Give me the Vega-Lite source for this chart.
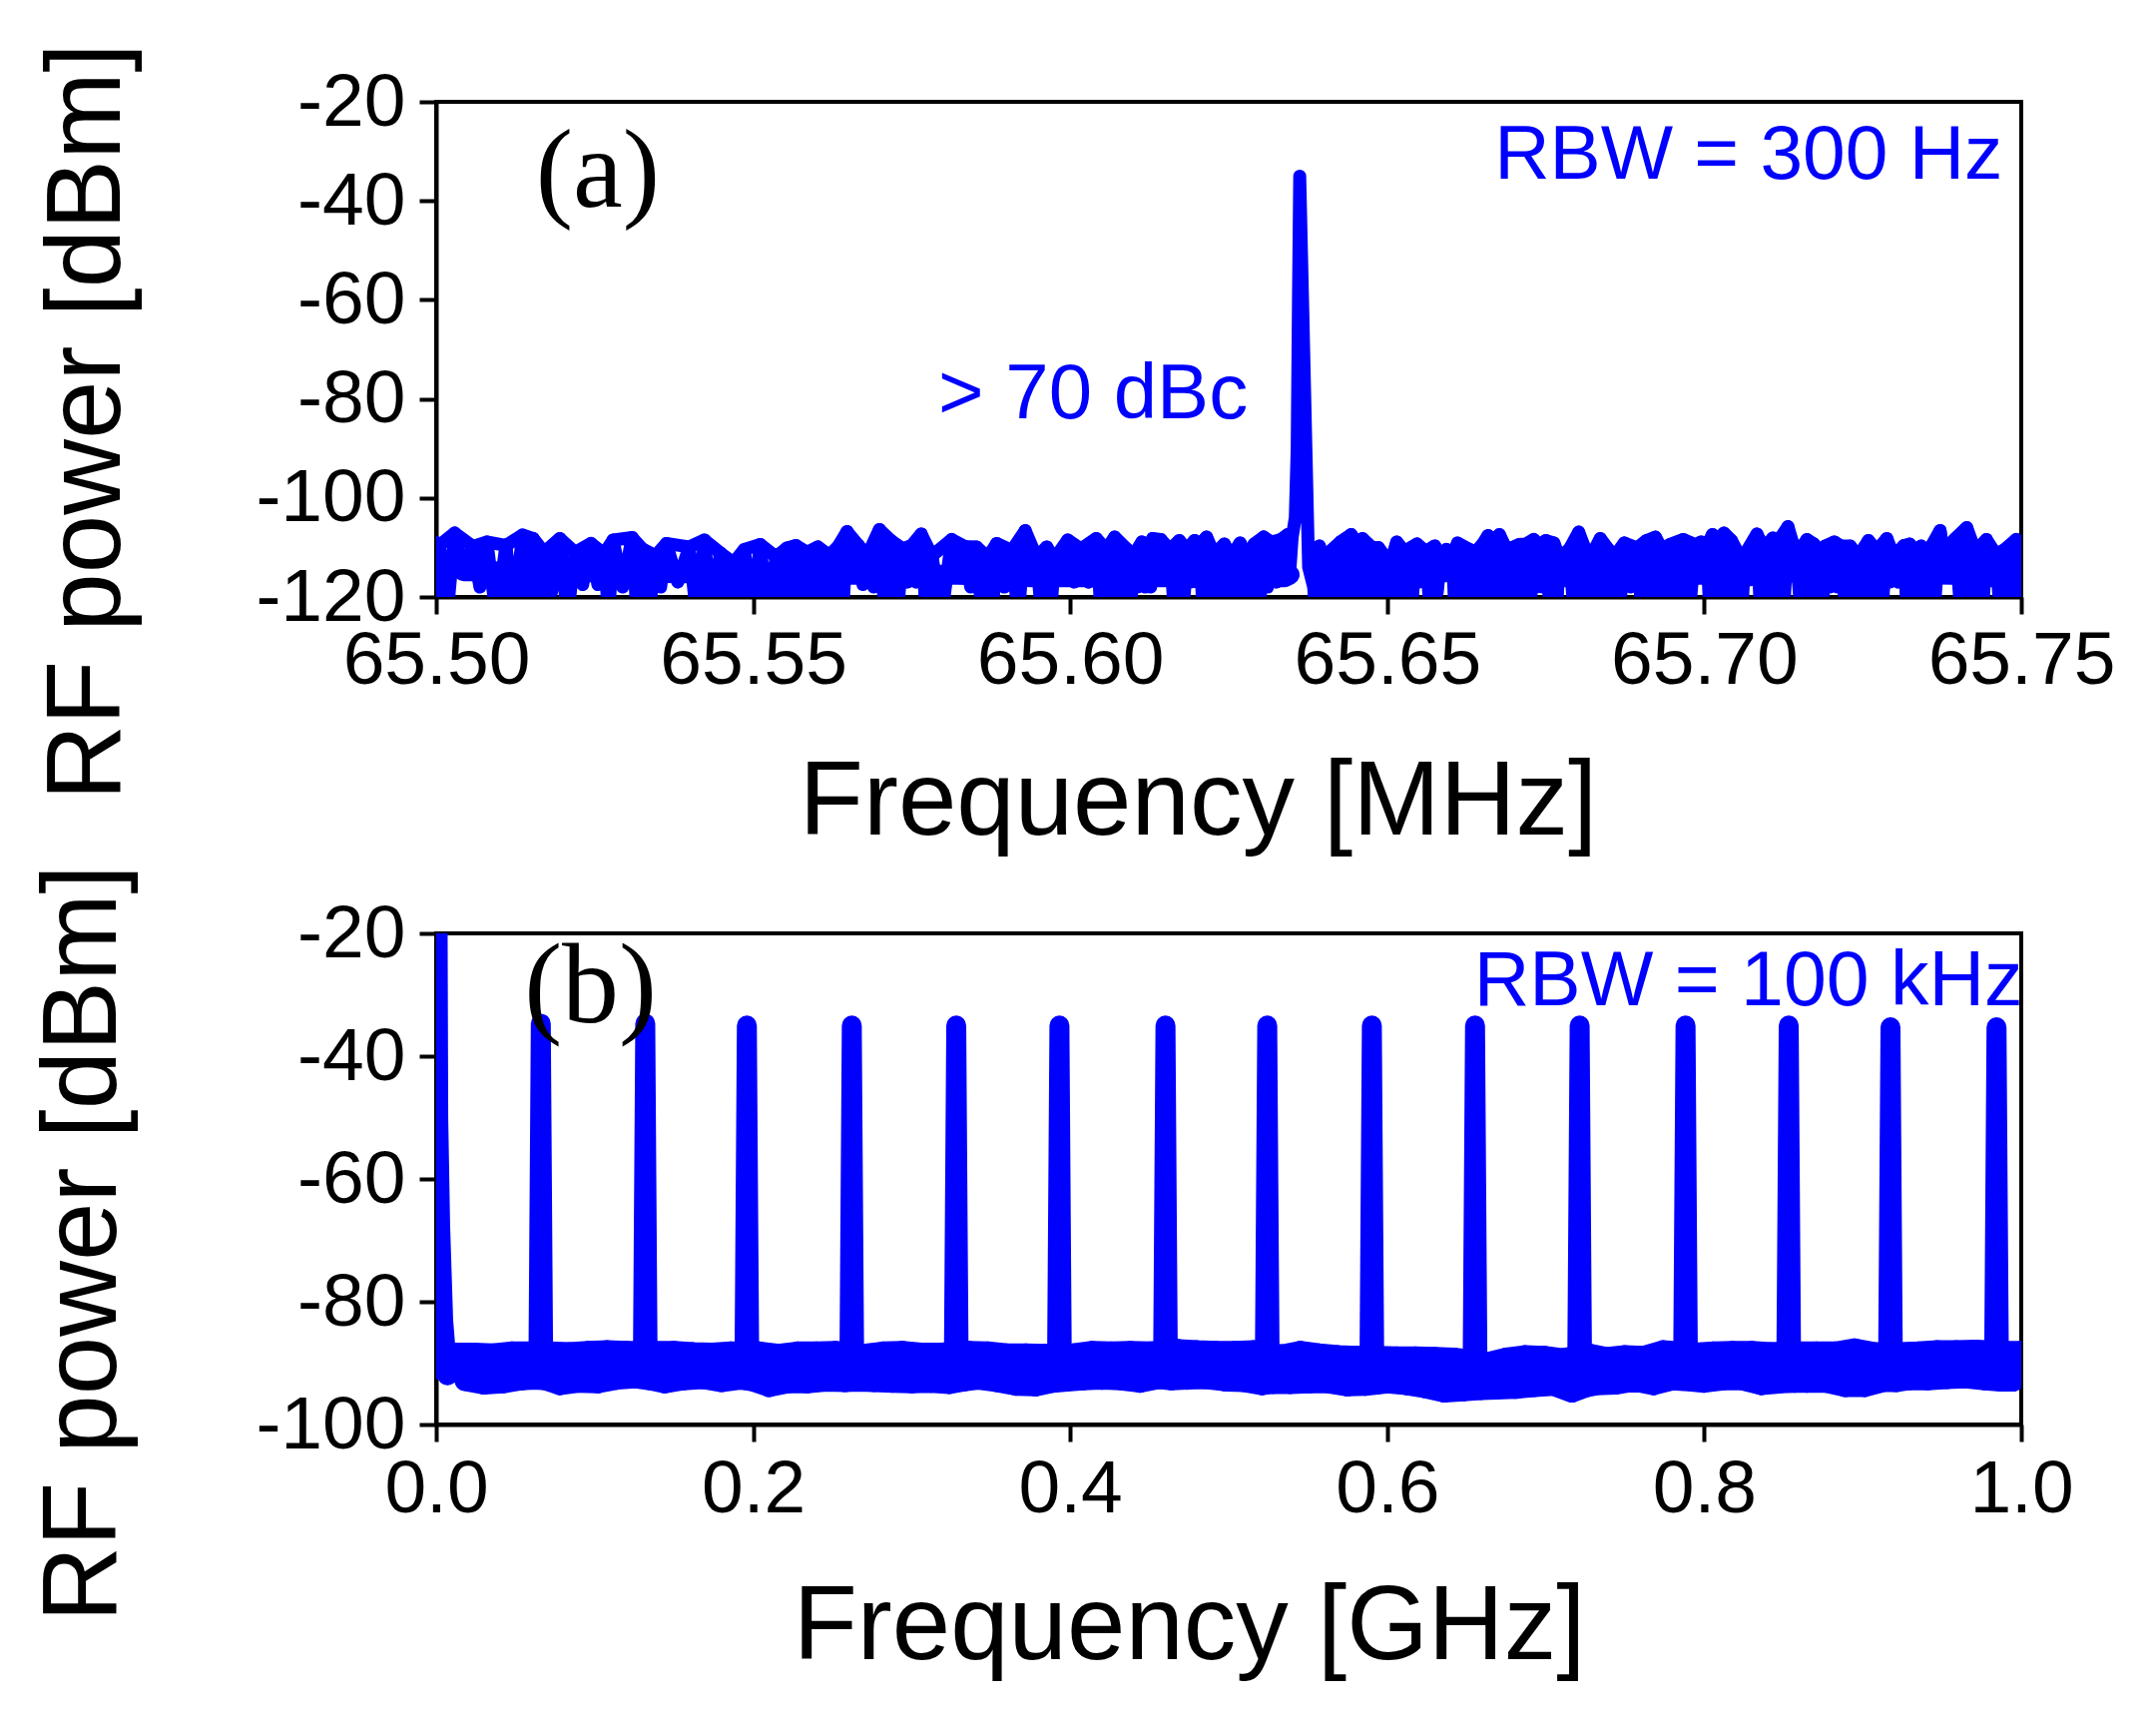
{"$schema":"https://vega.github.io/schema/vega-lite/v6.json","background":"white","autosize":{"type":"none"},"padding":{"left":437,"top":102,"right":1723,"bottom":1622},"bounds":"flush","spacing":337,"config":{"view":{"stroke":"#000000","strokeWidth":4},"font":"Liberation Sans","axis":{"grid":false,"domainColor":"#000000","domainWidth":4,"tickColor":"#000000","tickWidth":4,"tickSize":17,"labelColor":"#000000","labelFont":"Liberation Sans","labelFontSize":75,"labelLimit":600,"titleLimit":2000,"titleFont":"Liberation Sans","titleFontSize":105,"titleFontWeight":"normal","titleColor":"#000000","titleBaseline":"alphabetic","labelOverlap":false,"labelBound":false,"labelFlush":false,"zindex":1}},"datasets":{"specA":[{"f":65.5,"p":-109},{"f":65.5003,"p":-124},{"f":65.5005,"p":-109.6},{"f":65.5017,"p":-124},{"f":65.5029,"p":-107.1},{"f":65.5043,"p":-114.8},{"f":65.5058,"p":-109.8},{"f":65.5069,"p":-118},{"f":65.508,"p":-108.9},{"f":65.5095,"p":-124},{"f":65.511,"p":-109.6},{"f":65.5123,"p":-124},{"f":65.5136,"p":-107.5},{"f":65.5145,"p":-124},{"f":65.5153,"p":-108.2},{"f":65.5162,"p":-124},{"f":65.517,"p":-111},{"f":65.5182,"p":-119},{"f":65.5195,"p":-108.2},{"f":65.5207,"p":-124},{"f":65.5219,"p":-111},{"f":65.5231,"p":-117.5},{"f":65.5244,"p":-109.2},{"f":65.5255,"p":-117.5},{"f":65.5265,"p":-111.3},{"f":65.5272,"p":-124},{"f":65.5279,"p":-108.5},{"f":65.5294,"p":-118},{"f":65.5309,"p":-108},{"f":65.5317,"p":-124},{"f":65.5325,"p":-110.3},{"f":65.5335,"p":-124},{"f":65.5346,"p":-111.7},{"f":65.5354,"p":-118},{"f":65.5363,"p":-109.2},{"f":65.5381,"p":-117},{"f":65.5399,"p":-109.9},{"f":65.5411,"p":-124},{"f":65.5423,"p":-108.5},{"f":65.5435,"p":-124},{"f":65.5448,"p":-111.1},{"f":65.5458,"p":-124},{"f":65.5469,"p":-113.1},{"f":65.5477,"p":-124},{"f":65.5486,"p":-110.4},{"f":65.5498,"p":-124},{"f":65.5511,"p":-109.4},{"f":65.5523,"p":-124},{"f":65.5536,"p":-111.9},{"f":65.5544,"p":-124},{"f":65.5553,"p":-110.1},{"f":65.556,"p":-124},{"f":65.5567,"p":-109.6},{"f":65.5576,"p":-119},{"f":65.5585,"p":-111},{"f":65.5593,"p":-124},{"f":65.5602,"p":-109.9},{"f":65.5611,"p":-119},{"f":65.562,"p":-111.6},{"f":65.5627,"p":-124},{"f":65.5634,"p":-109.8},{"f":65.5641,"p":-124},{"f":65.5648,"p":-106.8},{"f":65.5657,"p":-115.5},{"f":65.5666,"p":-109.6},{"f":65.5673,"p":-117.5},{"f":65.568,"p":-111.7},{"f":65.569,"p":-118},{"f":65.5699,"p":-106.4},{"f":65.5708,"p":-124},{"f":65.5718,"p":-108.7},{"f":65.5727,"p":-124},{"f":65.5736,"p":-110.3},{"f":65.5743,"p":-117},{"f":65.575,"p":-109.6},{"f":65.5757,"p":-117},{"f":65.5765,"p":-107.3},{"f":65.5773,"p":-124},{"f":65.5782,"p":-111.7},{"f":65.5797,"p":-124},{"f":65.5813,"p":-108.4},{"f":65.5823,"p":-115.5},{"f":65.5834,"p":-109.8},{"f":65.5843,"p":-118},{"f":65.5852,"p":-109.9},{"f":65.5861,"p":-124},{"f":65.587,"p":-112},{"f":65.5877,"p":-124},{"f":65.5884,"p":-109.2},{"f":65.5896,"p":-118},{"f":65.5908,"p":-110.6},{"f":65.5918,"p":-124},{"f":65.5929,"p":-106.6},{"f":65.5938,"p":-116},{"f":65.5947,"p":-112},{"f":65.5955,"p":-124},{"f":65.5963,"p":-109.9},{"f":65.5969,"p":-124},{"f":65.5975,"p":-112.4},{"f":65.5985,"p":-116.6},{"f":65.5996,"p":-108.5},{"f":65.6006,"p":-117},{"f":65.6017,"p":-110.3},{"f":65.6029,"p":-117},{"f":65.6041,"p":-108.2},{"f":65.6049,"p":-124},{"f":65.6057,"p":-110.4},{"f":65.6063,"p":-124},{"f":65.607,"p":-107.9},{"f":65.608,"p":-124},{"f":65.609,"p":-110.4},{"f":65.6095,"p":-124},{"f":65.6099,"p":-111.8},{"f":65.6106,"p":-118},{"f":65.6113,"p":-108.9},{"f":65.6118,"p":-118},{"f":65.6123,"p":-110.8},{"f":65.6127,"p":-118},{"f":65.613,"p":-108.2},{"f":65.6137,"p":-116},{"f":65.6143,"p":-108.4},{"f":65.615,"p":-116},{"f":65.6157,"p":-110.4},{"f":65.6165,"p":-124},{"f":65.6172,"p":-108.6},{"f":65.6178,"p":-124},{"f":65.6184,"p":-110.4},{"f":65.619,"p":-117},{"f":65.6196,"p":-108.6},{"f":65.62,"p":-117},{"f":65.6204,"p":-109.4},{"f":65.621,"p":-124},{"f":65.6215,"p":-107.9},{"f":65.6221,"p":-124},{"f":65.6227,"p":-111.4},{"f":65.6235,"p":-124},{"f":65.6243,"p":-109.3},{"f":65.6249,"p":-124},{"f":65.6254,"p":-111.8},{"f":65.6261,"p":-124},{"f":65.6268,"p":-109.1},{"f":65.6274,"p":-124},{"f":65.628,"p":-112.1},{"f":65.6285,"p":-124},{"f":65.629,"p":-109.3},{"f":65.6298,"p":-124},{"f":65.6305,"p":-107.9},{"f":65.6311,"p":-118},{"f":65.6317,"p":-108.9},{"f":65.6325,"p":-117},{"f":65.6332,"p":-108.4},{"f":65.6338,"p":-116},{"f":65.6343,"p":-107.4},{"f":65.6346,"p":-115.5},{"f":65.635,"p":-108},{"f":65.6355,"p":-104},{"f":65.6358,"p":-90},{"f":65.636,"p":-60},{"f":65.6362,"p":-35},{"f":65.6372,"p":-91.5},{"f":65.6376,"p":-114},{"f":65.6384,"p":-118},{"f":65.6387,"p":-124},{"f":65.6393,"p":-109.7},{"f":65.6395,"p":-124},{"f":65.6398,"p":-112.1},{"f":65.6403,"p":-124},{"f":65.6409,"p":-110.9},{"f":65.6417,"p":-124},{"f":65.6426,"p":-108.9},{"f":65.6434,"p":-124},{"f":65.6443,"p":-107.4},{"f":65.6448,"p":-124},{"f":65.6453,"p":-109.1},{"f":65.6457,"p":-124},{"f":65.6461,"p":-108.2},{"f":65.6469,"p":-124},{"f":65.6477,"p":-110.1},{"f":65.6481,"p":-124},{"f":65.6486,"p":-110},{"f":65.6492,"p":-124},{"f":65.6498,"p":-112.1},{"f":65.6502,"p":-124},{"f":65.6506,"p":-112.8},{"f":65.651,"p":-124},{"f":65.6515,"p":-108.9},{"f":65.6521,"p":-124},{"f":65.6527,"p":-110.8},{"f":65.6537,"p":-124},{"f":65.6547,"p":-109.3},{"f":65.655,"p":-117},{"f":65.6561,"p":-110.8},{"f":65.6568,"p":-124},{"f":65.6575,"p":-109.7},{"f":65.6579,"p":-119},{"f":65.6584,"p":-112.1},{"f":65.6589,"p":-115},{"f":65.6593,"p":-110.4},{"f":65.6598,"p":-115},{"f":65.6603,"p":-111.4},{"f":65.6607,"p":-124},{"f":65.6611,"p":-109.1},{"f":65.662,"p":-124},{"f":65.663,"p":-110.4},{"f":65.6633,"p":-112.2},{"f":65.6638,"p":-124},{"f":65.6643,"p":-110.4},{"f":65.6646,"p":-124},{"f":65.665,"p":-109.4},{"f":65.6655,"p":-115.5},{"f":65.6659,"p":-107.6},{"f":65.6664,"p":-124},{"f":65.6668,"p":-108.6},{"f":65.6673,"p":-124},{"f":65.6677,"p":-107.4},{"f":65.6682,"p":-124},{"f":65.6687,"p":-110.1},{"f":65.6692,"p":-124},{"f":65.6697,"p":-110},{"f":65.6702,"p":-124},{"f":65.6708,"p":-109.4},{"f":65.6713,"p":-124},{"f":65.6719,"p":-109.3},{"f":65.6725,"p":-124},{"f":65.6731,"p":-108.4},{"f":65.6736,"p":-118},{"f":65.674,"p":-109.5},{"f":65.6745,"p":-118},{"f":65.675,"p":-108.6},{"f":65.6757,"p":-124},{"f":65.6763,"p":-109.1},{"f":65.6767,"p":-124},{"f":65.6771,"p":-112},{"f":65.6779,"p":-116},{"f":65.6787,"p":-110.4},{"f":65.6795,"p":-124},{"f":65.6802,"p":-106.9},{"f":65.6808,"p":-124},{"f":65.6813,"p":-110.6},{"f":65.6818,"p":-118},{"f":65.6823,"p":-111.4},{"f":65.683,"p":-124},{"f":65.6836,"p":-108.2},{"f":65.6843,"p":-124},{"f":65.6849,"p":-110.4},{"f":65.6853,"p":-124},{"f":65.6857,"p":-112.1},{"f":65.6866,"p":-124},{"f":65.6874,"p":-109.1},{"f":65.6884,"p":-118},{"f":65.6894,"p":-110.1},{"f":65.6902,"p":-124},{"f":65.6909,"p":-108.6},{"f":65.6916,"p":-124},{"f":65.6923,"p":-107.9},{"f":65.6928,"p":-124},{"f":65.6933,"p":-110.3},{"f":65.694,"p":-124},{"f":65.6946,"p":-109.4},{"f":65.6956,"p":-119},{"f":65.6967,"p":-108.4},{"f":65.6976,"p":-124},{"f":65.6986,"p":-109.4},{"f":65.699,"p":-115.5},{"f":65.6995,"p":-108.9},{"f":65.7,"p":-115.5},{"f":65.7004,"p":-109.7},{"f":65.7009,"p":-124},{"f":65.7013,"p":-107.4},{"f":65.7017,"p":-124},{"f":65.7021,"p":-108.4},{"f":65.7026,"p":-118},{"f":65.7031,"p":-107.1},{"f":65.7037,"p":-124},{"f":65.7043,"p":-108.6},{"f":65.7048,"p":-124},{"f":65.7054,"p":-111.3},{"f":65.7059,"p":-124},{"f":65.7064,"p":-111.4},{"f":65.7074,"p":-116.5},{"f":65.7083,"p":-107.3},{"f":65.7089,"p":-124},{"f":65.7094,"p":-110.1},{"f":65.7101,"p":-124},{"f":65.7108,"p":-108.1},{"f":65.7113,"p":-124},{"f":65.7119,"p":-108.3},{"f":65.7125,"p":-124},{"f":65.7132,"p":-105.8},{"f":65.7139,"p":-115},{"f":65.7145,"p":-111.4},{"f":65.7153,"p":-124},{"f":65.7162,"p":-108.4},{"f":65.7167,"p":-118},{"f":65.7173,"p":-109.3},{"f":65.7176,"p":-124},{"f":65.718,"p":-110.8},{"f":65.7186,"p":-124},{"f":65.7191,"p":-109.7},{"f":65.7198,"p":-118},{"f":65.7205,"p":-108.9},{"f":65.721,"p":-118},{"f":65.7216,"p":-109.7},{"f":65.7223,"p":-124},{"f":65.723,"p":-109.7},{"f":65.7236,"p":-124},{"f":65.7243,"p":-111.8},{"f":65.7251,"p":-124},{"f":65.7259,"p":-108.6},{"f":65.7265,"p":-124},{"f":65.7272,"p":-110.6},{"f":65.728,"p":-124},{"f":65.7288,"p":-108.2},{"f":65.7293,"p":-117},{"f":65.7299,"p":-111.8},{"f":65.7306,"p":-117},{"f":65.7315,"p":-109.6},{"f":65.732,"p":-124},{"f":65.7324,"p":-109.3},{"f":65.733,"p":-124},{"f":65.7337,"p":-111.4},{"f":65.734,"p":-118},{"f":65.7342,"p":-109.7},{"f":65.7347,"p":-124},{"f":65.7353,"p":-110.9},{"f":65.7362,"p":-124},{"f":65.7372,"p":-106.6},{"f":65.7378,"p":-112.5},{"f":65.7384,"p":-109.7},{"f":65.739,"p":-115.5},{"f":65.7396,"p":-108.2},{"f":65.7405,"p":-124},{"f":65.7414,"p":-106},{"f":65.7419,"p":-124},{"f":65.7424,"p":-109.5},{"f":65.7429,"p":-124},{"f":65.7434,"p":-109.9},{"f":65.7439,"p":-124},{"f":65.7445,"p":-108.4},{"f":65.7452,"p":-116},{"f":65.746,"p":-111.4},{"f":65.7467,"p":-124},{"f":65.7474,"p":-110.4},{"f":65.7483,"p":-124},{"f":65.7492,"p":-108.4},{"f":65.7497,"p":-124},{"f":65.75,"p":-109}],"specB":[{"f":0,"p":-91},{"f":0.0008,"p":-10},{"f":0.0013,"p":-50},{"f":0.0025,"p":-67.6},{"f":0.0044,"p":-83},{"f":0.0055,"p":-86.5},{"f":0.007,"p":-92},{"f":0.012,"p":-88.3},{"f":0.018,"p":-92.9},{"f":0.024,"p":-88.3},{"f":0.03,"p":-93.5},{"f":0.036,"p":-88.4},{"f":0.042,"p":-93.3},{"f":0.048,"p":-88.1},{"f":0.054,"p":-92.8},{"f":0.06,"p":-88.1},{"f":0.0625,"p":-92.7},{"f":0.0645,"p":-90},{"f":0.066,"p":-34.7},{"f":0.0675,"p":-90},{"f":0.069,"p":-92.8},{"f":0.072,"p":-88.1},{"f":0.078,"p":-93.6},{"f":0.084,"p":-88.2},{"f":0.09,"p":-93.2},{"f":0.096,"p":-88},{"f":0.102,"p":-93.3},{"f":0.108,"p":-87.9},{"f":0.114,"p":-92.7},{"f":0.12,"p":-88},{"f":0.126,"p":-92.5},{"f":0.1304,"p":-90},{"f":0.1319,"p":-34.7},{"f":0.1334,"p":-90},{"f":0.135,"p":-92.8},{"f":0.138,"p":-88},{"f":0.144,"p":-93.3},{"f":0.15,"p":-88},{"f":0.156,"p":-92.8},{"f":0.162,"p":-88.2},{"f":0.168,"p":-92.6},{"f":0.174,"p":-88.3},{"f":0.18,"p":-93.1},{"f":0.186,"p":-88.1},{"f":0.192,"p":-92.7},{"f":0.1945,"p":-90},{"f":0.196,"p":-35},{"f":0.1975,"p":-90},{"f":0.2,"p":-93},{"f":0.204,"p":-88.1},{"f":0.21,"p":-93.9},{"f":0.216,"p":-88.5},{"f":0.222,"p":-93.3},{"f":0.228,"p":-88.1},{"f":0.234,"p":-93.3},{"f":0.24,"p":-88.1},{"f":0.246,"p":-93},{"f":0.252,"p":-88},{"f":0.258,"p":-93.1},{"f":0.2607,"p":-90},{"f":0.2622,"p":-35},{"f":0.2637,"p":-90},{"f":0.2665,"p":-93},{"f":0.27,"p":-88.5},{"f":0.276,"p":-93.1},{"f":0.282,"p":-88.1},{"f":0.288,"p":-93.2},{"f":0.294,"p":-88},{"f":0.3,"p":-93.3},{"f":0.306,"p":-88.3},{"f":0.312,"p":-93.2},{"f":0.318,"p":-88.3},{"f":0.324,"p":-93.4},{"f":0.3266,"p":-90},{"f":0.3281,"p":-35},{"f":0.3296,"p":-90},{"f":0.333,"p":-93},{"f":0.336,"p":-88},{"f":0.342,"p":-92.7},{"f":0.348,"p":-88.1},{"f":0.354,"p":-93.1},{"f":0.36,"p":-88.4},{"f":0.366,"p":-93.7},{"f":0.372,"p":-88.4},{"f":0.378,"p":-93.8},{"f":0.384,"p":-88.5},{"f":0.389,"p":-93.2},{"f":0.3917,"p":-90},{"f":0.3932,"p":-35},{"f":0.3947,"p":-90},{"f":0.398,"p":-93},{"f":0.402,"p":-88.4},{"f":0.408,"p":-92.8},{"f":0.414,"p":-88},{"f":0.42,"p":-92.7},{"f":0.426,"p":-88.1},{"f":0.432,"p":-92.8},{"f":0.438,"p":-88},{"f":0.444,"p":-93.2},{"f":0.45,"p":-88.1},{"f":0.456,"p":-92.6},{"f":0.4586,"p":-90},{"f":0.4601,"p":-35},{"f":0.4616,"p":-90},{"f":0.464,"p":-92.8},{"f":0.468,"p":-87.7},{"f":0.474,"p":-92.7},{"f":0.48,"p":-87.9},{"f":0.486,"p":-92.6},{"f":0.492,"p":-88},{"f":0.498,"p":-93},{"f":0.504,"p":-88},{"f":0.51,"p":-93.1},{"f":0.516,"p":-87.9},{"f":0.521,"p":-93.6},{"f":0.5228,"p":-90},{"f":0.5243,"p":-35},{"f":0.5258,"p":-90},{"f":0.528,"p":-93.4},{"f":0.5336,"p":-88.6},{"f":0.539,"p":-93.4},{"f":0.545,"p":-88},{"f":0.551,"p":-93.3},{"f":0.557,"p":-88.4},{"f":0.563,"p":-93.3},{"f":0.569,"p":-88.7},{"f":0.575,"p":-93.8},{"f":0.581,"p":-88.8},{"f":0.586,"p":-93.7},{"f":0.5888,"p":-90},{"f":0.5903,"p":-35},{"f":0.5918,"p":-90},{"f":0.5935,"p":-93.5},{"f":0.595,"p":-88.8},{"f":0.6,"p":-93.3},{"f":0.606,"p":-88.9},{"f":0.612,"p":-93.6},{"f":0.618,"p":-88.9},{"f":0.624,"p":-94.1},{"f":0.63,"p":-89},{"f":0.636,"p":-94.8},{"f":0.642,"p":-89.1},{"f":0.648,"p":-94.6},{"f":0.6539,"p":-90},{"f":0.6554,"p":-35},{"f":0.6569,"p":-90},{"f":0.659,"p":-94.4},{"f":0.664,"p":-89.8},{"f":0.669,"p":-94.3},{"f":0.675,"p":-89.1},{"f":0.681,"p":-94.2},{"f":0.687,"p":-88.7},{"f":0.693,"p":-93.9},{"f":0.699,"p":-88.8},{"f":0.705,"p":-93.7},{"f":0.711,"p":-89.2},{"f":0.7165,"p":-94.8},{"f":0.7199,"p":-90},{"f":0.7214,"p":-35},{"f":0.7229,"p":-90},{"f":0.725,"p":-94},{"f":0.727,"p":-88.4},{"f":0.732,"p":-93.6},{"f":0.738,"p":-89},{"f":0.744,"p":-93.5},{"f":0.75,"p":-88.7},{"f":0.756,"p":-93},{"f":0.762,"p":-88.8},{"f":0.768,"p":-93.6},{"f":0.774,"p":-87.9},{"f":0.78,"p":-92.8},{"f":0.7867,"p":-90},{"f":0.7882,"p":-35},{"f":0.7897,"p":-90},{"f":0.792,"p":-93},{"f":0.794,"p":-88.3},{"f":0.8,"p":-93.2},{"f":0.806,"p":-88.1},{"f":0.812,"p":-92.8},{"f":0.818,"p":-88},{"f":0.824,"p":-92.8},{"f":0.83,"p":-88},{"f":0.836,"p":-93.6},{"f":0.842,"p":-88.2},{"f":0.848,"p":-93.3},{"f":0.8518,"p":-90},{"f":0.8533,"p":-35},{"f":0.8548,"p":-90},{"f":0.857,"p":-93.2},{"f":0.859,"p":-88.1},{"f":0.865,"p":-93.2},{"f":0.871,"p":-88.1},{"f":0.877,"p":-93.2},{"f":0.883,"p":-88.1},{"f":0.889,"p":-93.9},{"f":0.895,"p":-87.6},{"f":0.901,"p":-93.9},{"f":0.907,"p":-88.2},{"f":0.913,"p":-93.1},{"f":0.916,"p":-90},{"f":0.9175,"p":-35.3},{"f":0.919,"p":-90},{"f":0.921,"p":-93.1},{"f":0.923,"p":-88.2},{"f":0.929,"p":-92.8},{"f":0.935,"p":-88.1},{"f":0.941,"p":-92.8},{"f":0.947,"p":-87.9},{"f":0.953,"p":-92.6},{"f":0.959,"p":-87.9},{"f":0.965,"p":-92.5},{"f":0.971,"p":-87.8},{"f":0.977,"p":-92.8},{"f":0.9829,"p":-90},{"f":0.9844,"p":-35.3},{"f":0.9859,"p":-90},{"f":0.987,"p":-93},{"f":0.99,"p":-88},{"f":0.995,"p":-93},{"f":1,"p":-88}],"noteAserif":[{"f":65.5157,"p":-41.2,"t":"(a)"}],"noteRbwA":[{"f":65.6669,"p":-35.5,"t":"RBW = 300 Hz"}],"noteDbc":[{"f":65.5792,"p":-83.9,"t":"> 70 dBc"}],"noteBserif":[{"f":0.0555,"p":-34.5,"t":"(b)"}],"noteBblue":[{"f":0.6547,"p":-31.7,"t":"RBW = 100 kHz"}]},"vconcat":[{"width":1588,"height":496,"layer":[{"data":{"name":"specA"},"mark":{"type":"line","color":"#0000FF","strokeWidth":13,"strokeJoin":"round","strokeCap":"round","clip":true},"encoding":{"x":{"field":"f","type":"quantitative","sort":null,"scale":{"domain":[65.5,65.75],"nice":false,"zero":false},"axis":{"title":"Frequency [MHz]","values":[65.5,65.55,65.6,65.65,65.7,65.75],"format":".2f","labelPadding":10,"titleX":763,"titleY":237,"titleAnchor":"middle"}},"y":{"field":"p","type":"quantitative","scale":{"domain":[-120,-20],"nice":false,"zero":false},"axis":{"title":"RF power [dBm]","values":[-120,-100,-80,-60,-40,-20],"labelExpr":"'' + datum.value","labelPadding":14,"titleX":-318,"titleY":320,"titleAnchor":"middle"}},"order":{"field":"f","type":"quantitative"}}},{"data":{"name":"specA"},"transform":[{"filter":"datum.p > -114 && datum.p < -104.5 && datum.f < 65.6352"}],"mark":{"type":"line","color":"#0000FF","strokeWidth":13,"strokeJoin":"round","strokeCap":"round","clip":true},"encoding":{"x":{"field":"f","type":"quantitative"},"y":{"field":"p","type":"quantitative"},"order":{"field":"f","type":"quantitative"}}},{"data":{"name":"specA"},"transform":[{"filter":"datum.p > -114 && datum.p < -104.5 && datum.f > 65.6392"}],"mark":{"type":"line","color":"#0000FF","strokeWidth":13,"strokeJoin":"round","strokeCap":"round","clip":true},"encoding":{"x":{"field":"f","type":"quantitative"},"y":{"field":"p","type":"quantitative"},"order":{"field":"f","type":"quantitative"}}},{"data":{"name":"specA"},"transform":[{"filter":"datum.p >= -116 && datum.p <= -114 && datum.f < 65.6347"}],"mark":{"type":"line","color":"#0000FF","strokeWidth":20,"strokeJoin":"round","strokeCap":"round","clip":true},"encoding":{"x":{"field":"f","type":"quantitative"},"y":{"field":"p","type":"quantitative"},"order":{"field":"f","type":"quantitative"}}},{"data":{"name":"specA"},"transform":[{"filter":"datum.p >= -116 && datum.p <= -114 && datum.f > 65.639"}],"mark":{"type":"line","color":"#0000FF","strokeWidth":20,"strokeJoin":"round","strokeCap":"round","clip":true},"encoding":{"x":{"field":"f","type":"quantitative"},"y":{"field":"p","type":"quantitative"},"order":{"field":"f","type":"quantitative"}}},{"data":{"name":"noteAserif"},"mark":{"type":"text","font":"Liberation Serif","fontSize":112,"align":"left","baseline":"alphabetic","color":"#000000"},"encoding":{"x":{"field":"f","type":"quantitative"},"y":{"field":"p","type":"quantitative"},"text":{"field":"t"}}},{"data":{"name":"noteRbwA"},"mark":{"type":"text","font":"Liberation Sans","fontSize":76.7,"align":"left","baseline":"alphabetic","color":"#0000FF"},"encoding":{"x":{"field":"f","type":"quantitative"},"y":{"field":"p","type":"quantitative"},"text":{"field":"t"}}},{"data":{"name":"noteDbc"},"mark":{"type":"text","font":"Liberation Sans","fontSize":78,"align":"left","baseline":"alphabetic","color":"#0000FF"},"encoding":{"x":{"field":"f","type":"quantitative"},"y":{"field":"p","type":"quantitative"},"text":{"field":"t"}}}]},{"width":1588,"height":492,"layer":[{"data":{"name":"specB"},"mark":{"type":"line","color":"#0000FF","strokeWidth":20,"strokeJoin":"round","strokeCap":"round","clip":true},"encoding":{"x":{"field":"f","type":"quantitative","sort":null,"scale":{"domain":[0,1],"nice":false,"zero":false},"axis":{"title":"Frequency [GHz]","values":[0,0.2,0.4,0.6,0.8,1],"format":".1f","labelPadding":11,"titleX":754,"titleY":234,"titleAnchor":"middle"}},"y":{"field":"p","type":"quantitative","scale":{"domain":[-100,-20],"nice":false,"zero":false},"axis":{"title":"RF power [dBm]","values":[-100,-80,-60,-40,-20],"labelExpr":"'' + datum.value","labelPadding":14,"titleX":-322,"titleY":310,"titleAnchor":"middle"}},"order":{"field":"f","type":"quantitative"}}},{"data":{"name":"specB"},"transform":[{"filter":"datum.p > -89.95 && datum.p < -87"}],"mark":{"type":"line","color":"#0000FF","strokeWidth":20,"strokeJoin":"round","strokeCap":"round","clip":true},"encoding":{"x":{"field":"f","type":"quantitative"},"y":{"field":"p","type":"quantitative"},"order":{"field":"f","type":"quantitative"}}},{"data":{"name":"specB"},"transform":[{"filter":"datum.p < -92"}],"mark":{"type":"line","color":"#0000FF","strokeWidth":20,"strokeJoin":"round","strokeCap":"round","clip":true},"encoding":{"x":{"field":"f","type":"quantitative"},"y":{"field":"p","type":"quantitative"},"order":{"field":"f","type":"quantitative"}}},{"data":{"name":"noteBserif"},"mark":{"type":"text","font":"Liberation Serif","fontSize":114,"align":"left","baseline":"alphabetic","color":"#000000"},"encoding":{"x":{"field":"f","type":"quantitative"},"y":{"field":"p","type":"quantitative"},"text":{"field":"t"}}},{"data":{"name":"noteBblue"},"mark":{"type":"text","font":"Liberation Sans","fontSize":77,"align":"left","baseline":"alphabetic","color":"#0000FF"},"encoding":{"x":{"field":"f","type":"quantitative"},"y":{"field":"p","type":"quantitative"},"text":{"field":"t"}}}]}]}
